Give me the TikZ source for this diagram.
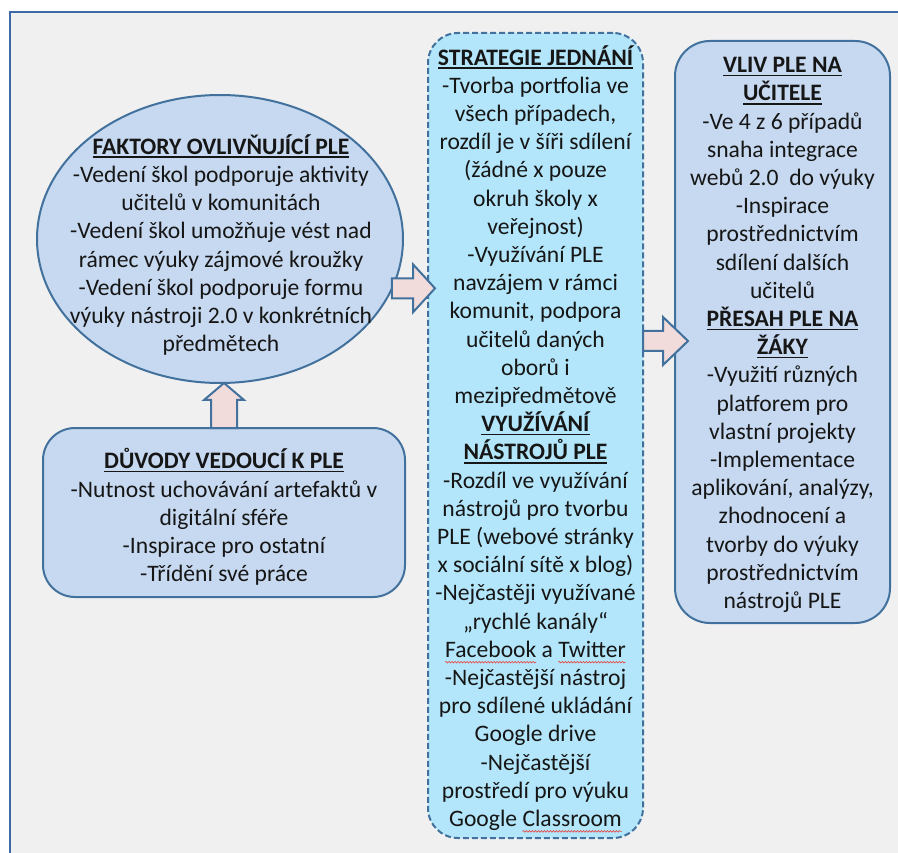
\documentclass[tikz,border=0pt]{standalone}
\usepackage{fontspec}
\setmainfont{Carlito}
\usetikzlibrary{shapes.geometric,calc,decorations.pathmorphing}

\definecolor{panel}{HTML}{F0F0F0}
\definecolor{frameblue}{HTML}{3F6AA6}
\definecolor{edgeblue}{HTML}{41719C}
\definecolor{paleblue}{HTML}{C6D9F0}
\definecolor{palecyan}{HTML}{B3E6FA}
\definecolor{palepink}{HTML}{F2DCDB}
\definecolor{ink}{HTML}{161616}
\definecolor{spellred}{HTML}{E8413C}

% underlined bold heading
\newcommand\hdr[1]{\setbox0\hbox{\bfseries #1}\rlap{\rule[-3.6pt]{\wd0}{1.5pt}}\box0\relax}
% word with a wavy red underline
\newlength\spellwd
\newcommand\spell[1]{\setbox0\hbox{#1}\setlength\spellwd{\wd0}%
  \tikz[overlay,baseline=0pt]\draw[spellred,line width=0.6pt,decorate,
    decoration={snake,amplitude=0.8pt,segment length=3pt}] (0pt,-4.8pt) -- (\spellwd,-4.8pt);%
  \box0\relax}

% block arrow: tail, tip, shaft half width, head half width, head length
\newcommand\blockarrow[5]{%
  \coordinate (ba-base) at ($(#2)!#5!(#1)$);
  \draw[blockarrowstyle]
    ($(#1)!#3!90:(#2)$) -- ($(ba-base)!#3!90:(#2)$) -- ($(ba-base)!#4!90:(#2)$)
    -- (#2) -- ($(ba-base)!#4!-90:(#2)$) -- ($(ba-base)!#3!-90:(#2)$)
    -- ($(#1)!#3!-90:(#2)$) -- cycle;}

\tikzset{
  shapebox/.style={draw=edgeblue, line width=2pt, inner sep=0pt, outer sep=0pt},
  bluebox/.style={shapebox, rectangle, fill=paleblue},
  blockarrowstyle/.style={draw=edgeblue, fill=palepink, line width=2pt, line join=miter},
  txt/.style={align=center, inner sep=0pt, text=ink,
    font=\fontsize{23.6}{28.2}\selectfont},
}

\begin{document}
\begin{tikzpicture}[x=1pt,y=-1pt]
\useasboundingbox (0,0) rectangle (898,853);
\fill[white] (0,0) rectangle (898,853);
\fill[panel] (10,12) rectangle (898,853);
\draw[frameblue, line width=2.5pt] (10,853) -- (10,12) -- (898,12);

% shapes
\node[shapebox, ellipse, fill=paleblue, minimum width=366pt, minimum height=288pt]
  (faktory) at (220,239) {};
\node[bluebox, rounded corners=32pt, minimum width=362pt, minimum height=169pt]
  (duvody) at (224,512.5) {};
\node[shapebox, rectangle, fill=palecyan, dashed, dash pattern=on 6pt off 3pt,
  rounded corners=30pt, minimum width=215pt, minimum height=805pt]
  (strategie) at (535.5,435.5) {};
\node[bluebox, rounded corners=35pt, minimum width=215pt, minimum height=582pt]
  (vliv) at (782.5,332) {};

% texts
\node[txt] (faktory-t) at (221,245) {%
  \hdr{FAKTORY OVLIVŇUJÍCÍ PLE}\\
  -Vedení škol podporuje aktivity\\
  učitelů v komunitách\\
  -Vedení škol umožňuje vést nad\\
  rámec výuky zájmové kroužky\\
  -Vedení škol podporuje formu\\
  výuky nástroji 2.0 v konkrétních\\
  předmětech};

\node[txt] (duvody-t) at (224,517) {%
  \hdr{DŮVODY VEDOUCÍ K PLE}\\
  -Nutnost uchovávání artefaktů v\\
  digitální sféře\\
  -Inspirace pro ostatní\\
  -Třídění své práce};

\node[txt] (strategie-t) at (535.5,438) {%
  \hdr{STRATEGIE JEDNÁNÍ}\\
  -Tvorba portfolia ve\\
  všech případech,\\
  rozdíl je v šíři sdílení\\
  (žádné x pouze\\
  okruh školy x\\
  veřejnost)\\
  -Využívání PLE\\
  navzájem v rámci\\
  komunit, podpora\\
  učitelů daných\\
  oborů i\\
  mezipředmětově\\
  \hdr{VYUŽÍVÁNÍ}\\
  \hdr{NÁSTROJŮ PLE}\\
  -Rozdíl ve využívání\\
  nástrojů pro tvorbu\\
  PLE (webové stránky\\
  x sociální sítě x blog)\\
  -Nejčastěji využívané\\
  „rychlé kanály“\\
  \spell{Facebook} a \spell{Twitter}\\
  -Nejčastější nástroj\\
  pro sdílené ukládání\\
  Google drive\\
  -Nejčastější\\
  prostředí pro výuku\\
  Google \spell{Classroom}};

\node[txt] (vliv-t) at (782.5,335) {%
  \hdr{VLIV PLE NA}\\
  \hdr{UČITELE}\\
  -Ve 4 z 6 případů\\
  snaha integrace\\
  webů 2.0~ do výuky\\
  -Inspirace\\
  prostřednictvím\\
  sdílení dalších\\
  učitelů\\
  \hdr{PŘESAH PLE NA}\\
  \hdr{ŽÁKY}\\
  -Využití různých\\
  platforem pro\\
  vlastní projekty\\
  -Implementace\\
  aplikování, analýzy,\\
  zhodnocení a\\
  tvorby do výuky\\
  prostřednictvím\\
  nástrojů PLE};

% arrow end points
\coordinate (a1-tail) at (faktory.-16.2);
\coordinate (a1-tip) at ($(strategie.west |- a1-tail)+(7,0)$);
\coordinate (a2-tail) at ($(strategie.east)+(0,-94.5)$);
\coordinate (a2-tip) at ($(vliv.west |- a2-tail)+(13,0)$);
\coordinate (a3-tip) at (duvody.north |- faktory.south);

% block arrows
\blockarrow{duvody.north}{a3-tip}{13pt}{20pt}{17pt}
\blockarrow{a1-tail}{a1-tip}{10pt}{24pt}{22pt}
\blockarrow{a2-tail}{a2-tip}{10pt}{24pt}{25pt}
\end{tikzpicture}
\end{document}
